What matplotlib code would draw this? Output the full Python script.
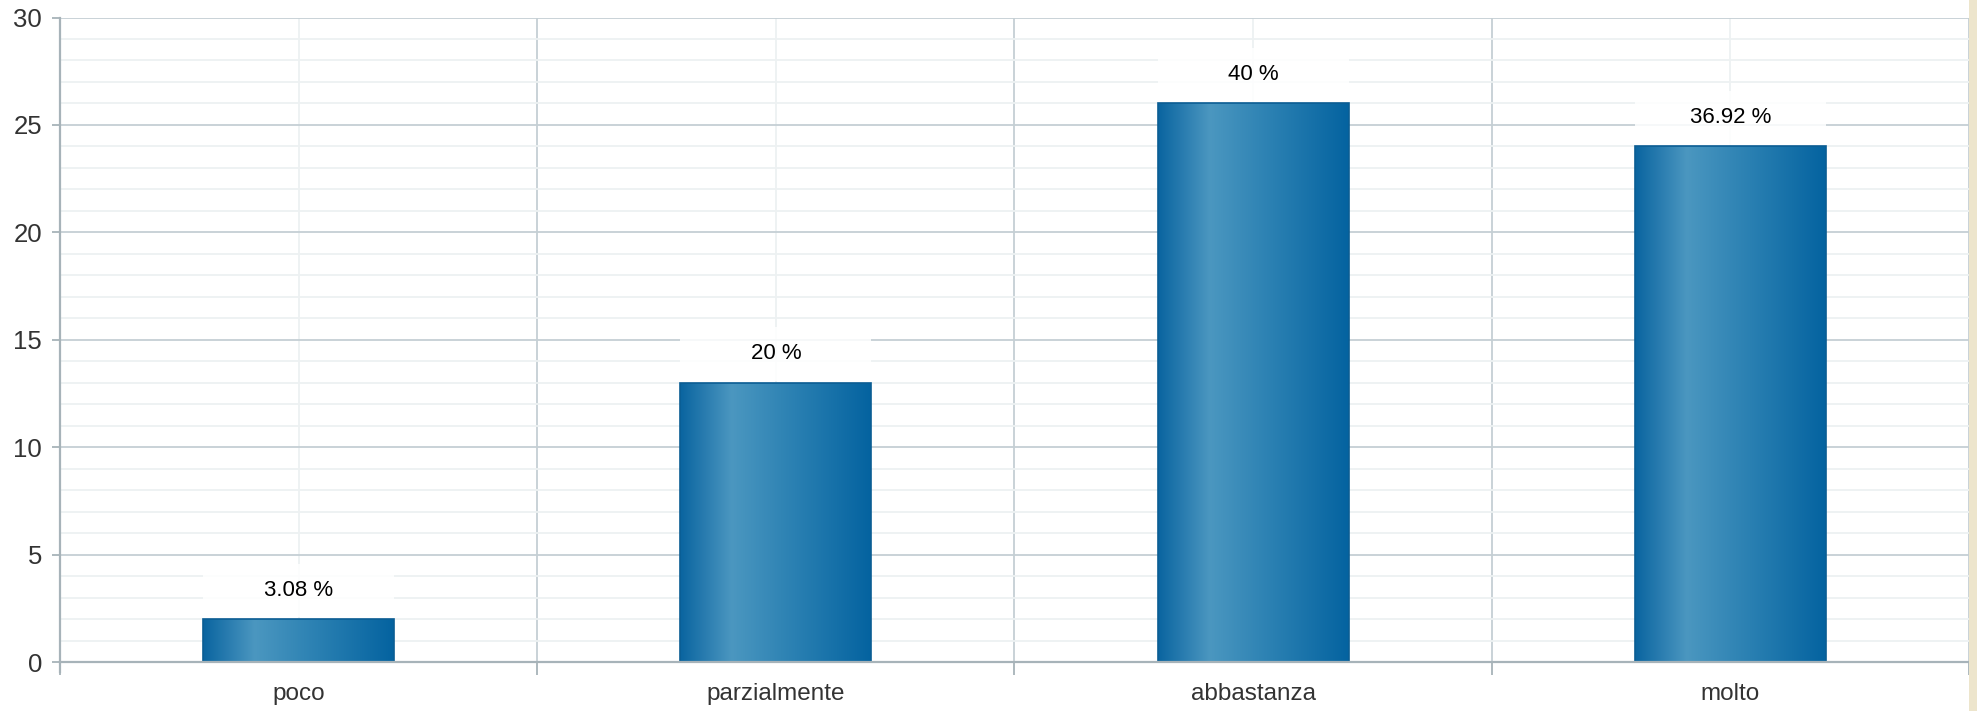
import numpy as np
import matplotlib.pyplot as plt
from matplotlib.colors import LinearSegmentedColormap
from matplotlib.patches import Rectangle

categories = ['poco', 'parzialmente', 'abbastanza', 'molto']
counts = [2, 13, 26, 24]
percent_labels = ['3.08 %', '20 %', '40 %', '36.92 %']

plt.rcParams['font.family'] = ['Liberation Sans', 'DejaVu Sans']

fig = plt.figure(figsize=(19.77, 7.11), dpi=100)
fig.patches.append(Rectangle((1969 / 1977, 0), 1, 1, transform=fig.transFigure,
                             facecolor='#ede5cc', edgecolor='none', zorder=0))
ax = fig.add_axes([60 / 1977, 49 / 711, 1909 / 1977, 644.5 / 711])

x = np.arange(len(categories))
ax.set_xlim(-0.5, len(categories) - 0.5)
ax.set_ylim(0, 30)

# grid
ax.set_yticks(np.arange(0, 31, 5))
ax.set_yticks(np.arange(0, 31, 1), minor=True)
ax.set_xticks(np.arange(-0.5, len(categories), 1))
ax.set_xticks(x, minor=True)
ax.grid(which='major', color='#c5cfd4', linewidth=1.3, zorder=0)
ax.grid(which='minor', color='#edf1f2', linewidth=1.3, zorder=0)
ax.set_axisbelow(True)

ax.set_xticklabels([''] * (len(categories) + 1))
ax.set_xticklabels(categories, minor=True)
ax.tick_params(axis='x', which='major', length=9, color='#a7b3b9', width=1.3, direction='out')
ax.tick_params(axis='x', which='minor', length=0, pad=15, labelsize=17.5, labelcolor='#333333')
ax.tick_params(axis='y', which='major', length=6, color='#a7b3b9', width=1.3, pad=7,
               labelsize=18.5, labelcolor='#333333')
ax.tick_params(axis='y', which='minor', length=0)

for side in ['top', 'right']:
    ax.spines[side].set_visible(False)
for side in ['left', 'bottom']:
    ax.spines[side].set_color('#a7b3b9')
    ax.spines[side].set_linewidth(1.6)
ax.spines['left'].set_zorder(5)
ax.spines['bottom'].set_zorder(5)

cmap = LinearSegmentedColormap.from_list(
    'bar', [(0.0, '#0a64a0'), (0.27, '#4b97c0'), (0.6, '#2a80b2'), (1.0, '#0463a0')])
grad = np.linspace(0, 1, 256).reshape(1, -1)

width = 0.4
bars = ax.bar(x, counts, width=width, facecolor='none', edgecolor='#0b5d93',
              linewidth=1.2, zorder=4)
for bar, lab in zip(bars, percent_labels):
    x0, h = bar.get_x(), bar.get_height()
    im = ax.imshow(grad, extent=[x0, x0 + width, 0, h], aspect='auto', cmap=cmap,
                   zorder=3, interpolation='bicubic')
    im.set_clip_path(bar)
    ax.add_patch(Rectangle((x0, h + 0.08), width, 2.5, facecolor='white',
                           edgecolor='none', alpha=0.85, zorder=2))
    ax.text(x0 + width / 2, h + 1.35, lab, ha='center', va='center',
            fontsize=16, color='black', zorder=6)

ax.set_xlim(-0.5, len(categories) - 0.5)
ax.set_ylim(0, 30)
ax.spines['left'].set_bounds(-0.45, 30)

fig.savefig('out.png', dpi=100)
